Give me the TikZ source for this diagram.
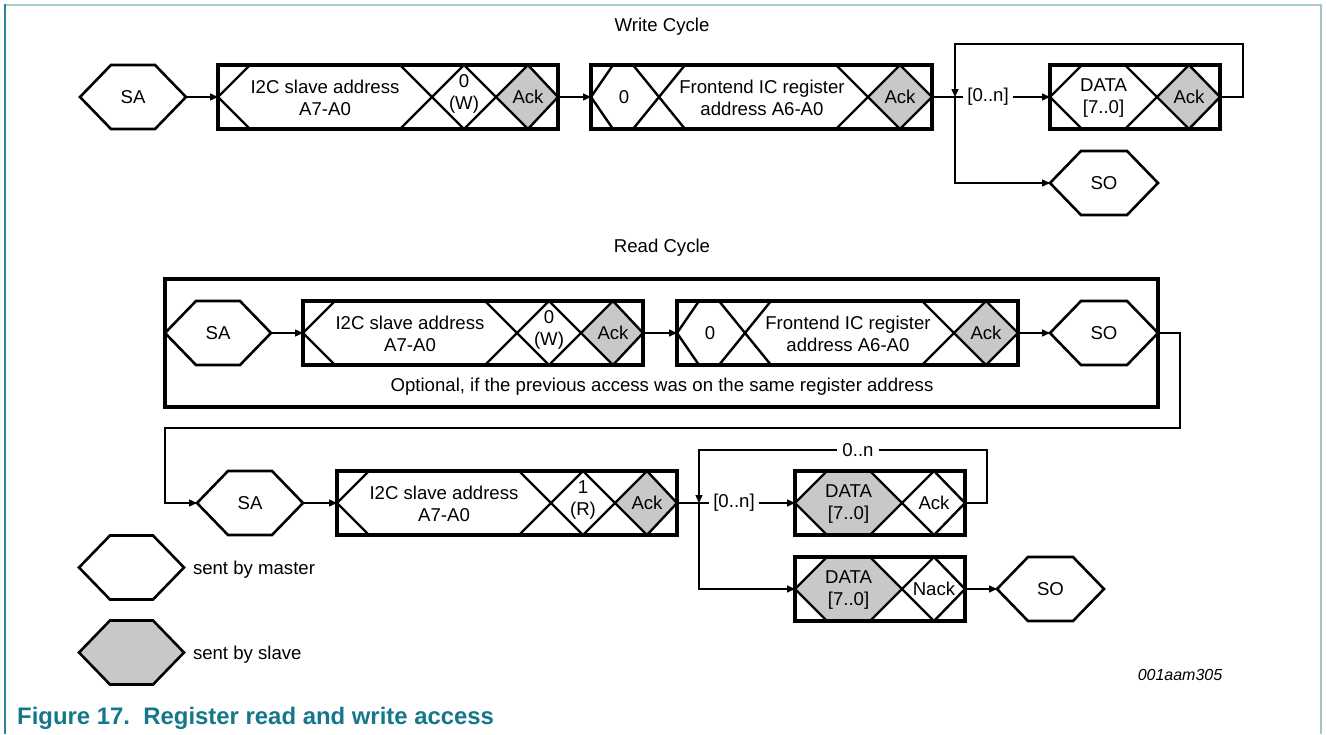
\documentclass[tikz,border=0pt]{standalone}
\usepackage{fontspec}
\setmainfont{Liberation Sans}
\usetikzlibrary{arrows.meta,calc}
\definecolor{slavegray}{HTML}{C8C8C8}
\definecolor{capteal}{HTML}{15788A}
\definecolor{frameA}{HTML}{A8D0D4}
\definecolor{frameB}{HTML}{2A8396}
\definecolor{frameC}{HTML}{A4C4CA}
\tikzset{
 txt/.style={font=\fontsize{18.6}{22}\selectfont, align=center, inner sep=0pt, outer sep=0pt, text=black},
 cellnode/.style={inner sep=0pt, outer sep=0pt, minimum height=64pt},
 boxline/.style={line width=3.2pt, line join=miter},
 inline/.style={line width=2.4pt, line join=miter},
 hexline/.style={line width=2.6pt, line join=miter},
 conn/.style={line width=1.4pt},
 arr/.style={conn, -{Triangle[length=8pt,width=7pt]}},
 lab/.style={txt, inner xsep=4pt},
}
\newcommand\hexa[6]{%
 \node[cellnode, minimum width={2*#4}] (#1) at (#2,#3) {};
 \draw[hexline, fill=#5] (#1.west) -- ++(31,-32) -- ++({2*#4-62},0) -- ++(31,32) -- ++(-31,32) -- ++({62-2*#4},0) -- cycle;
 \node[txt] (#1t) at (#1) {#6};
}
\newcommand\itcbox[4]{%
 \node[cellnode, minimum width=340] (#1) at (#2,#3) {};
 \begin{scope}[shift={(#1.west)}]
  \fill[slavegray] (278,0) -- (310,-32) -- (340,0) -- (310,32) -- cycle;
  \draw[inline] (32,-32) -- (0,0) -- (32,32);
  \draw[inline] (182,-32) -- (246,32) (182,32) -- (246,-32);
  \draw[inline] (246,-32) -- (310,32) (246,32) -- (310,-32);
  \draw[inline] (310,-32) -- (340,0) -- (310,32);
  \node[txt] (#1a) at (107,1) {I2C slave address\\A7-A0};
  \node[txt] (#1b) at (246,-3) {#4};
  \node[txt] (#1c) at (310,0) {Ack};
 \end{scope}
 \draw[boxline] (#1.north west) rectangle (#1.south east);
}
\newcommand\febox[3]{%
 \node[cellnode, minimum width=341] (#1) at (#2,#3) {};
 \begin{scope}[shift={(#1.west)}]
  \fill[slavegray] (277,0) -- (309,-32) -- (341,0) -- (309,32) -- cycle;
  \draw[inline] (22,-32) -- (0,0) -- (22,32);
  \draw[inline] (42,-32) -- (94,32) (42,32) -- (94,-32);
  \draw[inline] (245,-32) -- (309,32) (245,32) -- (309,-32);
  \draw[inline] (309,-32) -- (341,0) -- (309,32);
  \node[txt] (#1a) at (33,0) {0};
  \node[txt] (#1b) at (171,1) {Frontend IC register\\address A6-A0};
  \node[txt] (#1c) at (309,0) {Ack};
 \end{scope}
 \draw[boxline] (#1.north west) rectangle (#1.south east);
}
\newcommand\databox[6]{%
 \node[cellnode, minimum width=170] (#1) at (#2,#3) {};
 \begin{scope}[shift={(#1.west)}]
  \fill[#4] (0,0) -- (32,-32) -- (75,-32) -- (107,0) -- (75,32) -- (32,32) -- cycle;
  \fill[#5] (107,0) -- (139,-32) -- (170,0) -- (139,32) -- cycle;
  \draw[inline] (32,-32) -- (0,0) -- (32,32);
  \draw[inline] (75,-32) -- (139,32) (75,32) -- (139,-32);
  \draw[inline] (139,-32) -- (170,0) -- (139,32);
  \node[txt] (#1a) at (53.5,1) {DATA\\{}[7..0]};
  \node[txt] (#1c) at (139,0) {#6};
 \end{scope}
 \draw[boxline] (#1.north west) rectangle (#1.south east);
}
\begin{document}
\begin{tikzpicture}[x=1pt,y=-1pt]
\useasboundingbox (0,0) rectangle (1326,734);
% frame
\draw[frameA, line width=2.2pt] (4,5) -- (1322,5);
\draw[frameB, line width=2.2pt] (5,4) -- (5,734);
\draw[frameC, line width=2pt] (1321,5) -- (1321,734);

% ---------------- Write cycle
\node[txt] (wtitle) at (662,27) {Write Cycle};
\hexa{saw}{133}{97}{53}{white}{SA}
\itcbox{w1}{388}{97}{0\\(W)}
\febox{w2}{761.5}{97}
\node[lab] (lab1) at (988,97) {[0..n]};
\databox{w3}{1135}{97}{white}{slavegray}{Ack}
\hexa{sow}{1104}{183}{54}{white}{SO}

\draw[arr] (saw) -- (w1);
\draw[arr] (w1) -- (w2);
\draw[conn] (w2.east) -- (lab1.west);
\draw[arr] (lab1.east) -- (w3.west);
\coordinate (j1) at (955,97);
\coordinate (lt1) at (955,44);
\draw[arr] (w3.east) -- ++(23,0) |- (lt1) -- (j1);
\draw[arr] (j1) |- (sow.west);

% ---------------- Read cycle
\node[txt] (rtitle) at (662,248) {Read Cycle};
\node[draw, boxline, inner sep=0pt, outer sep=0pt, minimum width=993, minimum height=128] (opt) at (661.5,343) {};
\hexa{sar1}{218}{333}{53}{white}{SA}
\itcbox{r1}{473}{333}{0\\(W)}
\febox{r2}{847.5}{333}
\hexa{sor1}{1104}{333}{54}{white}{SO}
\node[txt] (optt) at (662,387) {Optional, if the previous access was on the same register address};

\draw[arr] (sar1) -- (r1);
\draw[arr] (r1) -- (r2);
\draw[arr] (r2) -- (sor1);

\hexa{sar2}{250}{503}{53}{white}{SA}
\itcbox{r3}{507}{503}{1\\(R)}
\node[lab] (lab2) at (734,503) {[0..n]};
\databox{r4}{880}{503}{slavegray}{white}{Ack}
\node[txt, inner xsep=5pt, fill=white] (lab3) at (858,450) {0..n};
\databox{r5}{880}{589}{slavegray}{white}{Nack}
\hexa{sor2}{1050.5}{589}{53.5}{white}{SO}

\coordinate (t2) at (165,428);
\draw[arr] (sor1.east) -- ++(22,0) |- (t2) |- (sar2.west);
\draw[arr] (sar2) -- (r3);
\draw[conn] (r3.east) -- (lab2.west);
\draw[arr] (lab2.east) -- (r4.west);
\coordinate (j2) at (699,503);
\coordinate (lt2) at (699,450);
\draw[conn] (r4.east) -- ++(22,0) |- (lab3.east);
\draw[arr] (lab3.west) -- (lt2) -- (j2);
\draw[arr] (j2) |- (r5.west);
\draw[arr] (r5) -- (sor2);

% ---------------- Legend
\hexa{legm}{131.5}{567.5}{52.5}{white}{}
\node[txt, anchor=west] (legmt) at (193,569.5) {sent by master};
\hexa{legs}{131.5}{652.5}{52.5}{slavegray}{}
\node[txt, anchor=west] (legst) at (193,654.5) {sent by slave};

\node[txt, font=\itshape\fontsize{16}{19}\selectfont] (fid) at (1180,675) {001aam305};
\node[anchor=base west, inner sep=0pt, font=\bfseries\fontsize{23.9}{28}\selectfont, text=capteal] (cap) at (17,724) {Figure 17.\ \ Register read and write access};
\end{tikzpicture}
\end{document}
